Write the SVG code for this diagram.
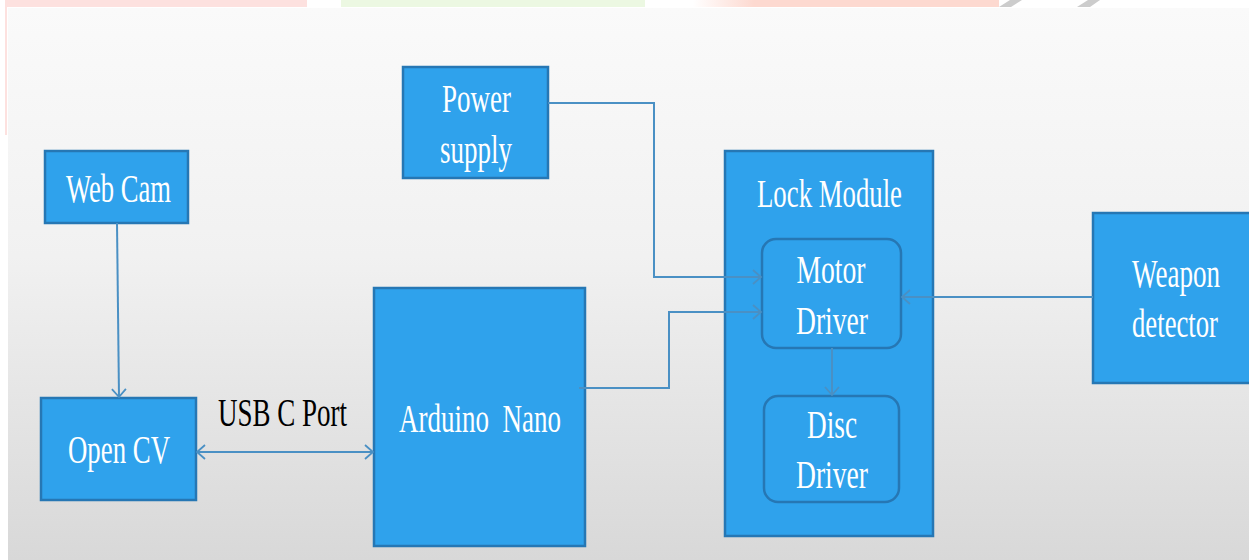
<svg xmlns="http://www.w3.org/2000/svg" width="1249" height="560" viewBox="0 0 1249 560">
<defs>
<linearGradient id="bg" x1="0" y1="0" x2="0" y2="1">
<stop offset="0" stop-color="#fafafa"/>
<stop offset="0.45" stop-color="#f1f1f1"/>
<stop offset="1" stop-color="#d8d8d8"/>
</linearGradient>
<linearGradient id="salmon" x1="0" y1="0" x2="1" y2="0">
<stop offset="0" stop-color="#fdd9d0" stop-opacity="0"/>
<stop offset="0.2" stop-color="#fdd9d0"/>
<stop offset="1" stop-color="#fdd9d0"/>
</linearGradient>
<marker id="arr" markerUnits="userSpaceOnUse" markerWidth="12" markerHeight="16" refX="9" refY="8" orient="auto-start-reverse">
<path d="M1,1 L9,8 L1,15" fill="none" stroke="#4a90c4" stroke-width="1.8"/>
</marker>
<style>
.box{fill:#2fa2ec;stroke:#2677b4;stroke-width:2.5}
.t{font-family:"Liberation Serif","Times New Roman",serif;font-size:40px;fill:#ffffff;text-anchor:middle}
.k{font-family:"Liberation Serif","Times New Roman",serif;font-size:40px;fill:#000000}
.c{fill:none;stroke:#4a90c4;stroke-width:2}
</style>
</defs>
<rect x="0" y="0" width="1249" height="560" fill="#ffffff"/>
<rect x="5" y="0" width="302" height="7" fill="#fde1df"/>
<rect x="341" y="0" width="304" height="7" fill="#ecf8e2"/>
<rect x="693" y="0" width="306" height="7" fill="url(#salmon)"/>
<path d="M999,7 L1010,0 L1022,0 L1011,7 Z" fill="#cccccc"/>
<path d="M1077,7 L1088,0 L1100,0 L1090,7 Z" fill="#cccccc"/>
<rect x="5" y="0" width="2" height="135" fill="#fde1df"/>
<rect x="8" y="8" width="1241" height="552" fill="url(#bg)"/>
<g id="webcam">
<rect class="box" x="45" y="151" width="143" height="72"/>
<text class="t" x="118.5" y="202" textLength="105" lengthAdjust="spacingAndGlyphs">Web Cam</text>
</g>
<g id="opencv">
<rect class="box" x="41" y="398" width="155" height="102"/>
<text class="t" x="119" y="463" textLength="102" lengthAdjust="spacingAndGlyphs">Open CV</text>
</g>
<g id="usb-label">
<text class="k" x="218" y="426" textLength="129" lengthAdjust="spacingAndGlyphs">USB C Port</text>
</g>
<g id="arduino">
<rect class="box" x="374" y="288" width="211" height="258"/>
<text class="t" x="480" y="432" textLength="162" lengthAdjust="spacingAndGlyphs" xml:space="preserve">Arduino  Nano</text>
</g>
<g id="power">
<rect class="box" x="403" y="67" width="145" height="111"/>
<text class="t" x="476.5" y="112" textLength="69" lengthAdjust="spacingAndGlyphs">Power</text>
<text class="t" x="476" y="163" textLength="72" lengthAdjust="spacingAndGlyphs">supply</text>
</g>
<g id="lock-module">
<rect class="box" x="725" y="151" width="208" height="385"/>
<text class="t" x="829.5" y="207" textLength="145" lengthAdjust="spacingAndGlyphs">Lock Module</text>
</g>
<g id="motor-driver">
<rect class="box" x="762" y="239" width="139" height="109" rx="14"/>
<text class="t" x="831" y="283" textLength="69" lengthAdjust="spacingAndGlyphs">Motor</text>
<text class="t" x="832" y="334" textLength="72" lengthAdjust="spacingAndGlyphs">Driver</text>
</g>
<g id="disc-driver">
<rect class="box" x="764" y="396" width="135" height="106" rx="14"/>
<text class="t" x="832" y="438" textLength="50" lengthAdjust="spacingAndGlyphs">Disc</text>
<text class="t" x="832" y="488" textLength="72" lengthAdjust="spacingAndGlyphs">Driver</text>
</g>
<g id="weapon-detector">
<rect class="box" x="1093" y="213" width="162" height="170"/>
<text class="t" x="1176" y="287" textLength="88" lengthAdjust="spacingAndGlyphs">Weapon</text>
<text class="t" x="1175" y="337" textLength="86" lengthAdjust="spacingAndGlyphs">detector</text>
</g>
<g id="connectors">
<path class="c" d="M117,223 L119,397" marker-end="url(#arr)"/>
<path class="c" d="M197,452 L373,452" marker-start="url(#arr)" marker-end="url(#arr)"/>
<path class="c" d="M548,103 L654,103 L654,277 L761,277" marker-end="url(#arr)" stroke="#6aa8d6"/>
<path class="c" d="M579,388 L669,388 L669,312 L761,312" marker-end="url(#arr)"/>
<path class="c" d="M1093,297 L902,297" marker-end="url(#arr)"/>
<path class="c" d="M832,348 L832,395" marker-end="url(#arr)"/>
</g>
</svg>
